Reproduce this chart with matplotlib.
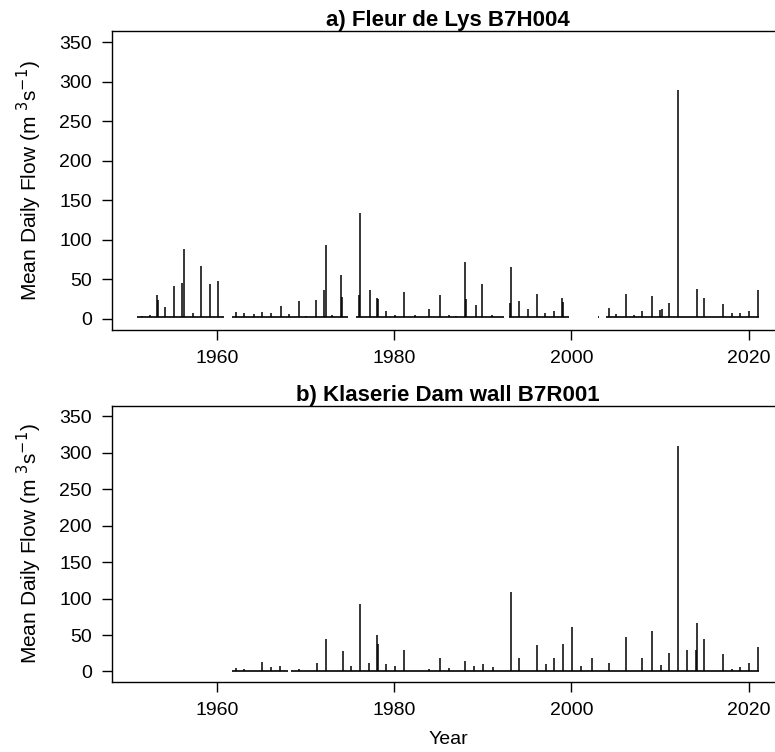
import matplotlib
matplotlib.use("Agg")
from matplotlib import pyplot as plt

plt.rcParams["font.family"] = ["Liberation Sans", "DejaVu Sans"]

# a) Fleur de Lys B7H004 -- record segments (decimal years) and flow peaks
a_segments = [(1950.9, 1960.8), (1961.7, 1974.8), (1975.7, 1992.4),
              (1992.9, 1999.7), (2003.0, 2003.1), (2003.9, 2021.2)]
a_base = 2
a_years = [1951.5, 1952.4, 1953.2, 1953.3, 1954.1, 1955.1, 1956.0, 1956.2, 1957.2, 1958.1,
           1959.2, 1960.1, 1962.1, 1963.0, 1964.1, 1965.1, 1966.1, 1967.2, 1968.1, 1969.2,
           1970.0, 1971.1, 1972.1, 1972.3, 1973.0, 1974.0, 1974.1, 1976.0, 1976.1, 1977.2,
           1978.0, 1978.1, 1979.1, 1980.1, 1981.1, 1982.3, 1983.9, 1985.1, 1986.2, 1987.0,
           1988.0, 1988.1, 1989.2, 1989.9, 1991.0, 1993.1, 1993.2, 1994.1, 1995.1, 1996.1,
           1997.0, 1998.0, 1998.9, 1999.0, 2004.2, 2005.0, 2006.2, 2007.1, 2008.0, 2009.1,
           2010.0, 2010.2, 2011.0, 2012.0, 2014.2, 2015.0, 2017.1, 2018.1, 2019.0, 2020.0,
           2021.1]
a_peaks = [4, 5, 30, 24, 15, 42, 45, 89, 8, 67,
           44, 48, 9, 8, 6, 9, 8, 16, 6, 23,
           4, 24, 36, 93, 5, 55, 28, 30, 134, 37,
           27, 25, 10, 5, 34, 5, 12, 30, 5, 4,
           72, 25, 18, 44, 5, 20, 65, 23, 13, 32,
           8, 10, 26, 22, 14, 6, 31, 5, 10, 29,
           11, 12, 20, 289, 38, 26, 19, 7, 7, 10,
           37]

# b) Klaserie Dam wall B7R001
b_segments = [(1961.7, 1968.0), (1968.3, 2021.2)]
b_base = 1
b_years = [1962.1, 1963.0, 1965.1, 1966.1, 1967.1, 1969.2, 1971.3, 1972.3, 1974.2, 1975.1,
           1976.1, 1977.1, 1978.0, 1978.1, 1979.0, 1980.1, 1981.1, 1983.9, 1985.1, 1986.2,
           1988.0, 1989.0, 1990.0, 1991.1, 1993.2, 1994.1, 1996.1, 1997.1, 1998.0, 1999.0,
           2000.1, 2001.1, 2002.3, 2004.2, 2006.2, 2008.0, 2009.1, 2010.1, 2011.0, 2012.0,
           2013.0, 2014.1, 2014.2, 2015.0, 2017.1, 2018.1, 2019.0, 2020.0, 2021.1]
b_peaks = [5, 4, 13, 6, 7, 4, 11, 44, 28, 8,
           92, 12, 50, 37, 10, 8, 30, 4, 19, 5,
           15, 8, 10, 6, 109, 18, 36, 10, 18, 37,
           61, 7, 19, 11, 47, 19, 55, 9, 25, 309,
           30, 30, 66, 44, 24, 4, 6, 11, 33]

titles = ["a) Fleur de Lys B7H004", "b) Klaserie Dam wall B7R001"]
ylab = r"Mean Daily Flow (m $^{3}$s$^{-1}$)"

fig = plt.figure(figsize=(7.75, 7.52), dpi=100)
ax_a = fig.add_axes([0.1445, 0.5612, 0.867, 0.3976])
ax_b = fig.add_axes([0.1445, 0.0935, 0.867, 0.3666])

panels = [(ax_a, a_segments, a_base, a_years, a_peaks),
          (ax_b, b_segments, b_base, b_years, b_peaks)]

for i, (ax, segs, base, yrs, pks) in enumerate(panels):
    ax.hlines([base] * len(segs), [s[0] for s in segs], [s[1] for s in segs],
              color="black", lw=1.2)
    ax.vlines(yrs, base, pks, color="black", lw=1.1)
    ax.set_xlim(1948.1, 2024.0)
    ax.set_ylim(-14, 364)
    ax.set_yticks(range(0, 351, 50))
    ax.set_xticks([1960, 1980, 2000, 2020])
    ax.tick_params(direction="out", length=7.5, width=1, labelsize=14, pad=7)
    for sp in ax.spines.values():
        sp.set_linewidth(1)
    ax.set_ylabel(ylab, fontsize=15, labelpad=11)
    ax.set_title(titles[i], fontsize=16, fontweight="bold", pad=3)

ax_b.set_xlabel("Year", fontsize=14, labelpad=9)

fig.savefig("out.png", dpi=100)
